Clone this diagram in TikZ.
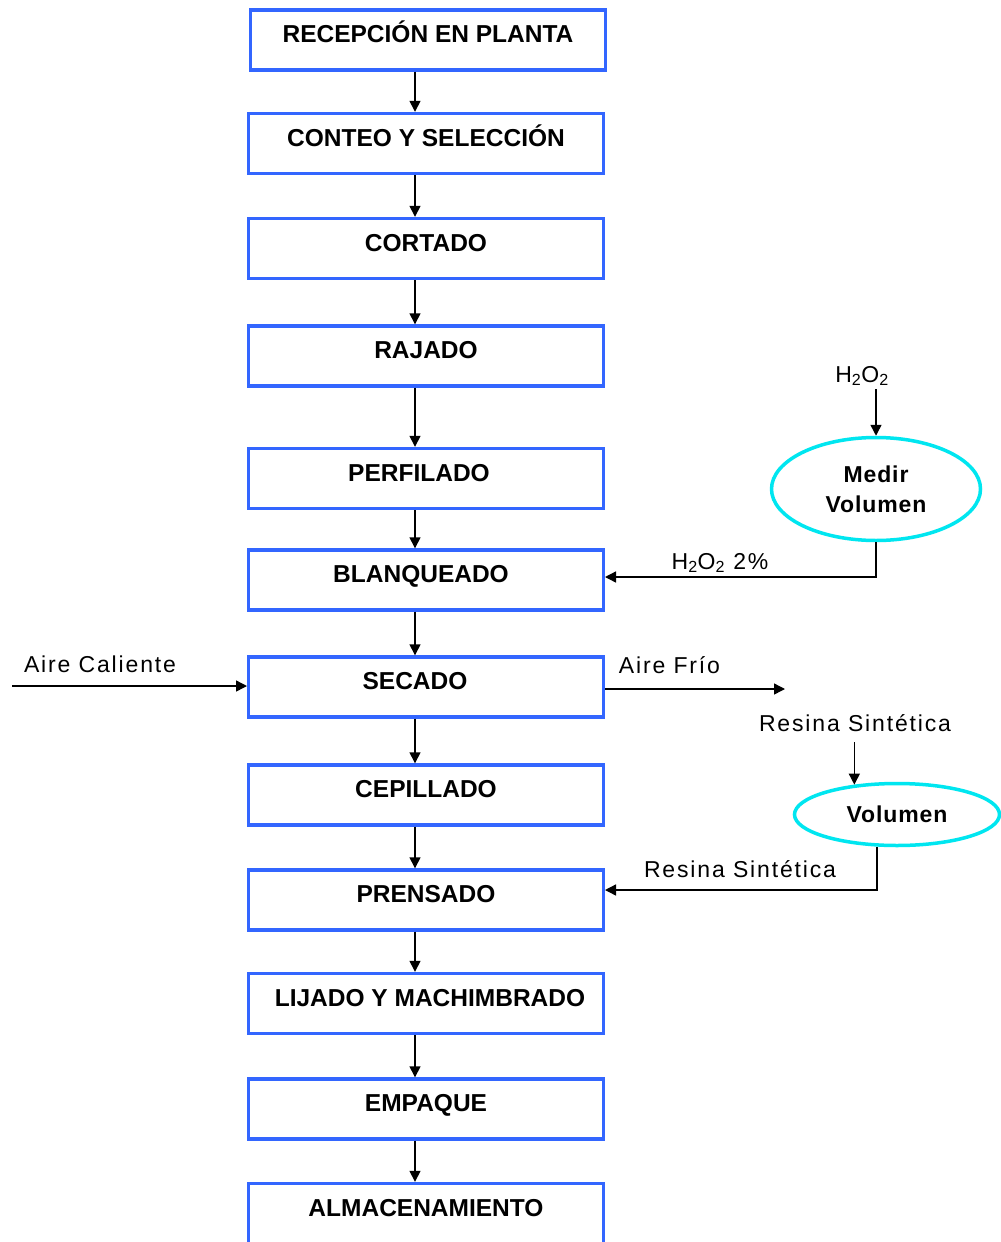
\documentclass[tikz,border=0pt]{standalone}
\usepackage{fontspec}
\setmainfont{Liberation Sans}
\usetikzlibrary{shapes.geometric,arrows.meta}
\definecolor{boxblue}{RGB}{51,102,255}
\definecolor{ovalcyan}{RGB}{0,230,240}

\begin{document}
\begin{tikzpicture}[x=1pt,y=-1pt,
  stage/.style={draw=boxblue, line width=3.4pt, fill=white, rectangle,
    minimum width=354.6pt, minimum height=60pt, inner sep=0pt,
    font=\bfseries\fontsize{24.5}{28}\selectfont, text height=14pt, text depth=8.5pt},
  oval/.style={draw=ovalcyan, line width=3.5pt, fill=white, ellipse, inner sep=0pt, align=center,
    font=\bfseries\fontsize{23}{30}\selectfont\addfontfeature{LetterSpace=4}},
  note/.style={inner sep=0pt, text height=16pt, text depth=0pt,
    font=\fontsize{23}{26}\selectfont\addfontfeature{LetterSpace=8}},
  flow/.style={line width=1.4pt, -{Triangle[length=11pt,width=11pt]}}
]
\useasboundingbox[fill=white] (0,0) rectangle (1001,1242);

% process stages
\node[stage] (b1)  at (428,40)     {RECEPCIÓN EN PLANTA};
\node[stage] (b2)  at (426,143.5)  {CONTEO Y SELECCIÓN};
\node[stage] (b3)  at (426,248.5)  {CORTADO};
\node[stage] (b4)  at (426,356)    {RAJADO};
\node[stage] (b5)  at (426,478.5)  {PERFILADO\kern14pt};
\node[stage] (b6)  at (426,580)    {BLANQUEADO\kern10pt};
\node[stage] (b7)  at (426,687)    {SECADO\kern22pt};
\node[stage] (b8)  at (426,795)    {CEPILLADO};
\node[stage] (b9)  at (426,900)    {PRENSADO};
\node[stage] (b10) at (426,1003.5) {\kern8pt LIJADO Y MACHIMBRADO};
\node[stage] (b11) at (426,1109)   {EMPAQUE};
\node[stage] (b12) at (426,1213.5) {ALMACENAMIENTO};

% side operations
\node[oval, minimum width=209pt, minimum height=103pt] (e1) at (876,489) {Medir\\Volumen};
\node[oval, minimum width=205pt, minimum height=62pt] (e2) at (897,814.5) {Volumen};

% stream labels
\node[note] (hin)  at (862,374)   {H\textsubscript{2}O\textsubscript{2}};
\node[note] (hmix) at (720,561)   {H\textsubscript{2}O\textsubscript{2} 2\%};
\node[note] (cal)  at (100,664)   {Aire Caliente};
\node[note] (fri)  at (669.5,665) {Aire Frío};
\node[note] (res1) at (855,723)   {Resina Sintética};
\node[note] (res2) at (740,869.5) {Resina Sintética};

% main line
\coordinate (spine) at (415,0);
\foreach \a/\b in {b1/b2,b2/b3,b3/b4,b4/b5,b5/b6,b6/b7,b7/b8,b8/b9,b9/b10,b10/b11,b11/b12}
  \draw[flow] (\a.south -| spine) -- (\b.north -| spine);

% drying air
\coordinate (airin) at (12,686);
\coordinate (airout) at (785,689);
\draw[flow] (airin) -- (airin -| b7.west);
\draw[flow] (b7.east |- airout) -- (airout);

% peroxide dosing
\draw[flow] ([yshift=-7pt]hin.south -| e1.north) -- (e1.north);
\draw[flow] (e1.south) |- ([yshift=3pt]b6.east);

% resin dosing
\draw[flow] ([yshift=-11pt]res1.south -| e2.145) -- (e2.145);
\draw[flow] (e2.238) |- ([yshift=10pt]b9.east);
\end{tikzpicture}
\end{document}
